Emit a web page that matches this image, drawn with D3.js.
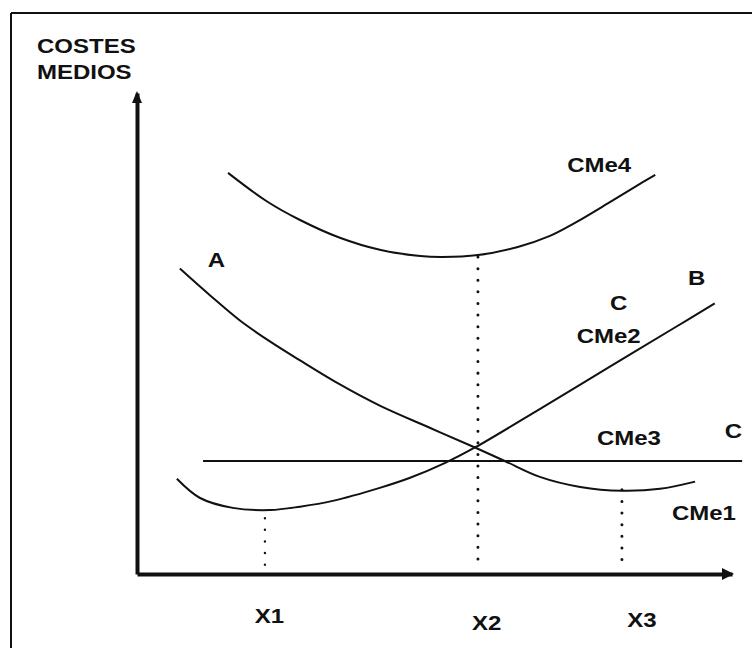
<!DOCTYPE html>
<html>
<head>
<meta charset="utf-8">
<script src="https://cdn.jsdelivr.net/npm/d3@7/dist/d3.min.js"></script>
<style>
  html, body { margin: 0; padding: 0; background: #fff; }
  svg { display: block; }
  text { font-family: "Liberation Sans", Arial, Helvetica, sans-serif; font-weight: bold; fill: #111; }
</style>
</head>
<body>
<script>
// ---- Data (x: output, y: average cost, arbitrary units 0..100) ----
const cme4 = [[15.3,83.4],[21.8,77.5],[27.4,73.6],[34.1,69.9],[40.8,67.4],[47.6,66.1],[51.3,65.9],[57.3,66.3],[64.0,68.0],[69.4,70.3],[73.6,73.0],[79.2,77.1],[83.7,80.5],[87.1,83.0]];
const cme1 = [[7.2,63.5],[12.3,57.9],[17.3,52.7],[22.4,48.3],[27.4,44.4],[34.1,39.4],[40.8,35.0],[49.2,30.4],[56.8,26.3],[61.8,23.5],[67.7,20.2],[74.5,18.1],[81.5,17.3],[87.9,17.7],[93.8,19.2]];
const cme2 = [[6.7,19.8],[10.6,15.8],[16.1,13.75],[22.4,13.3],[27.4,14.0],[32.9,15.2],[40.8,17.9],[45.9,20.0],[51.8,23.1],[56.8,26.3],[68.1,34.6],[79.2,42.9],[90.4,51.25],[97.1,56.25]];
const cme3 = [[11.1,23.5],[101.7,23.5]];
const dropLines = [
  {x: 21.5, top: 11.6},
  {x: 57.3, top: 65.9},
  {x: 81.5, top: 17.5}
];
const curveLabels = [
  {text: "CMe4", x: 72.3, y: 83.6},
  {text: "A",    x: 11.9, y: 63.8},
  {text: "B",    x: 92.6, y: 60.1},
  {text: "C",    x: 79.5, y: 54.9},
  {text: "CMe2", x: 73.9, y: 48.0},
  {text: "CMe3", x: 77.3, y: 26.8},
  {text: "C",    x: 98.8, y: 28.3},
  {text: "CMe1", x: 89.9, y: 11.2}
];
const xTickLabels = [
  {text: "X1", x: 19.8, y: -10.2},
  {text: "X2", x: 56.3, y: -11.6},
  {text: "X3", x: 82.4, y: -11.0}
];
const yTitle = ["COSTES", "MEDIOS"];

// ---- Layout ----
const W = 755, H = 648;
const svg = d3.select("body").append("svg").attr("width", W).attr("height", H);
svg.append("rect").attr("width", W).attr("height", H).attr("fill", "#fff");

const x = d3.scaleLinear().domain([0, 100]).range([137, 732]);
const y = d3.scaleLinear().domain([0, 100]).range([574, 93]);

// frame (top and left borders)
svg.append("line").attr("x1", 11).attr("y1", 13).attr("x2", 752).attr("y2", 13)
  .attr("stroke", "#111").attr("stroke-width", 2);
svg.append("line").attr("x1", 11).attr("y1", 13).attr("x2", 11).attr("y2", H)
  .attr("stroke", "#111").attr("stroke-width", 2);

// dotted drop lines
svg.append("g").selectAll("line").data(dropLines).join("line")
  .attr("x1", d => x(d.x)).attr("x2", d => x(d.x))
  .attr("y1", d => y(d.top)).attr("y2", y(0) - 6)
  .attr("stroke", "#111")
  .attr("stroke-width", (d, i) => i === 0 ? 2.4 : 3)
  .attr("stroke-linecap", "round")
  .attr("stroke-dasharray", "0.01 11.6");

// curves
const line = d3.line().x(d => x(d[0])).y(d => y(d[1])).curve(d3.curveCatmullRom.alpha(0.5));
svg.append("g").selectAll("path").data([cme4, cme1, cme2]).join("path")
  .attr("d", line).attr("fill", "none").attr("stroke", "#111").attr("stroke-width", 2);
svg.append("path").attr("d", d3.line().x(d => x(d[0])).y(d => y(d[1]))(cme3))
  .attr("fill", "none").attr("stroke", "#111").attr("stroke-width", 2);

// axes
const xAxis = svg.append("g").attr("transform", `translate(0,${y(0)})`)
  .call(d3.axisBottom(x).tickValues([]).tickSizeOuter(0));
xAxis.select(".domain").attr("stroke", "#111").attr("stroke-width", 4);
const yAxis = svg.append("g").attr("transform", `translate(${x(0)},0)`)
  .call(d3.axisLeft(y).tickValues([]).tickSizeOuter(0));
yAxis.select(".domain").attr("stroke", "#111").attr("stroke-width", 4);

// arrow heads
const xe = x(100), ye = y(0);
svg.append("path").attr("d", `M${xe + 2},${ye} L${xe - 10},${ye - 6} L${xe - 10},${ye + 6} Z`).attr("fill", "#111");
const xa = x(0), ya = y(100);
svg.append("path").attr("d", `M${xa},${ya - 2} L${xa - 5},${ya + 10} L${xa + 5},${ya + 10} Z`).attr("fill", "#111");

// labels
const SX = 1.2;
function label(g, t, px, py, size) {
  g.append("text").attr("transform", `translate(${px},${py}) scale(${SX},1)`)
    .attr("font-size", size).text(t);
}
const lg = svg.append("g");
curveLabels.forEach(d => label(lg, d.text, x(d.x), y(d.y), 20));
xTickLabels.forEach(d => label(lg, d.text, x(d.x), y(d.y), 20));
yTitle.forEach((t, i) => label(lg, t, 37, 53 + i * 26, 20));
</script>
</body>
</html>
